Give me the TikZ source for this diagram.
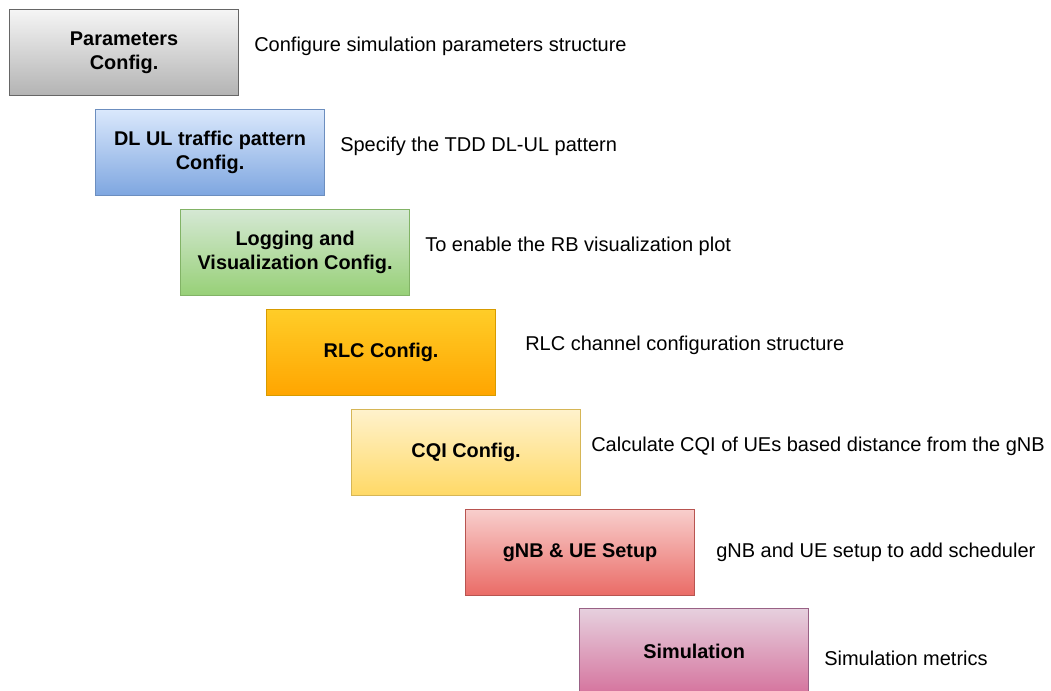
\documentclass[tikz,border=0pt]{standalone}
\usepackage{fontspec}
\setmainfont{Liberation Sans}
\definecolor{paramTop}{HTML}{F5F5F5}
\definecolor{paramBot}{HTML}{B3B3B3}
\definecolor{paramLine}{HTML}{666666}
\definecolor{dlulTop}{HTML}{DAE8FC}
\definecolor{dlulBot}{HTML}{7EA6E0}
\definecolor{dlulLine}{HTML}{6C8EBF}
\definecolor{logTop}{HTML}{D5E8D4}
\definecolor{logBot}{HTML}{97D077}
\definecolor{logLine}{HTML}{82B366}
\definecolor{rlcTop}{HTML}{FFCD28}
\definecolor{rlcBot}{HTML}{FFA500}
\definecolor{rlcLine}{HTML}{D79B00}
\definecolor{cqiTop}{HTML}{FFF2CC}
\definecolor{cqiBot}{HTML}{FFD966}
\definecolor{cqiLine}{HTML}{D6B656}
\definecolor{gnbTop}{HTML}{F8CECC}
\definecolor{gnbBot}{HTML}{EA6B66}
\definecolor{gnbLine}{HTML}{B85450}
\definecolor{simTop}{HTML}{E6D0DE}
\definecolor{simBot}{HTML}{D5739D}
\definecolor{simLine}{HTML}{996185}
\begin{document}
\begin{tikzpicture}[x=0.75pt,y=-0.75pt,
    stage/.style={line width=0.9pt, anchor=north west, inner sep=0pt,
      minimum width=171.75pt, minimum height=64.5pt, align=center,
      font=\bfseries\fontsize{14.9}{18}\selectfont},
    desc/.style={anchor=west, inner sep=0pt, font=\fontsize{15}{18}\selectfont}]
      \useasboundingbox (0,0) rectangle (1051,691);
      \clip (0,0) rectangle (1051,691);
      % stages
      \node[stage, draw=paramLine, top color=paramTop, bottom color=paramBot]
        (params) at (9,9) {Parameters\\Config.};
      \node[stage, draw=dlulLine, top color=dlulTop, bottom color=dlulBot]
        (dlul) at (95,109) {DL UL traffic pattern\\Config.};
      \node[stage, draw=logLine, top color=logTop, bottom color=logBot]
        (logging) at (180,209) {Logging and\\Visualization Config.};
      \node[stage, draw=rlcLine, top color=rlcTop, bottom color=rlcBot]
        (rlc) at (266,309) {RLC Config.};
      \node[stage, draw=cqiLine, top color=cqiTop, bottom color=cqiBot]
        (cqi) at (351,409) {CQI Config.};
      \node[stage, draw=gnbLine, top color=gnbTop, bottom color=gnbBot]
        (gnb) at (465,509) {gNB \& UE Setup};
      \node[stage, draw=simLine, top color=simTop, bottom color=simBot]
        (sim) at (579,608) {Simulation};
      % descriptions
      \node[desc] (paramsdesc) at (254,46) {Configure simulation parameters structure};
      \node[desc] (dluldesc) at (340,146) {Specify the TDD DL-UL pattern};
      \node[desc] (logdesc) at (425,246) {To enable the RB visualization plot};
      \node[desc] (rlcdesc) at (525,345) {RLC channel configuration structure};
      \node[desc] (cqidesc) at (591,446) {Calculate CQI of UEs based distance from the gNB};
      \node[desc] (gnbdesc) at (716,552) {gNB and UE setup to add scheduler};
      \node[desc] (simdesc) at (824,658) {Simulation metrics};
    \end{tikzpicture}
\end{document}
